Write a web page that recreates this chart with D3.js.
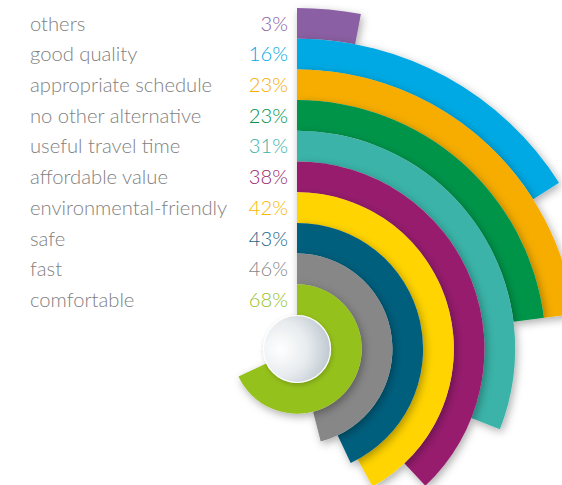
<!DOCTYPE html>
<html><head><meta charset="utf-8">
<script src="https://cdn.jsdelivr.net/npm/d3@7"></script>
<style>html,body{margin:0;padding:0;background:#fff;}svg{display:block;}</style>
</head><body>
<script>
const categories = ["others","good quality","appropriate schedule","no other alternative","useful travel time","affordable value","environmental-friendly","safe","fast","comfortable"];
const values = [3,16,23,23,31,38,42,43,46,68];
const valueLabels = ["3%","16%","23%","23%","31%","38%","42%","43%","46%","68%"];
const colors = ["#8b5ea3","#00a9e3","#f6ad00","#00944a","#3bb3a8","#971f6e","#ffd400","#005f7d","#878787","#95c11f"];
const textColors = ["#8b5ea3","#00a9e3","#f6ad00","#00944a","#3bb3a8","#971f6e","#f7b900","#1f6688","#878787","#95c11f"];

const W = 562, H = 485, cx = 297, cy = 349;
const svg = d3.select("body").append("svg").attr("width", W).attr("height", H);
const defs = svg.append("defs");
const f = defs.append("filter").attr("id","sh").attr("x","-30%").attr("y","-30%").attr("width","160%").attr("height","160%");
f.append("feDropShadow").attr("dx",2).attr("dy",3).attr("stdDeviation",4).attr("flood-color","#000").attr("flood-opacity",0.32);
const f2 = defs.append("filter").attr("id","sh2").attr("x","-30%").attr("y","-30%").attr("width","160%").attr("height","160%");
f2.append("feDropShadow").attr("dx",1).attr("dy",2).attr("stdDeviation",2.5).attr("flood-color","#000").attr("flood-opacity",0.2);
const rg = defs.append("radialGradient").attr("id","cg").attr("cx","25%").attr("cy","50%").attr("r","80%");
rg.append("stop").attr("offset","0%").attr("stop-color","#ffffff");
rg.append("stop").attr("offset","50%").attr("stop-color","#e8ecef");
rg.append("stop").attr("offset","100%").attr("stop-color","#b9c4cc");

const angle = d3.scaleLinear().domain([0,100]).range([0, 2*Math.PI]);
const radius = d3.scaleBand().domain(categories).range([341, 34]);
const bw = radius.bandwidth();
const arc = d3.arc();

const g = svg.append("g").attr("transform", `translate(${cx},${cy})`);
categories.forEach((c,i) => {
  g.append("path")
    .attr("d", arc({innerRadius: radius(c), outerRadius: radius(c)+bw, startAngle: 0, endAngle: angle(values[i])}))
    .attr("fill", colors[i])
    .attr("filter","url(#sh)");
});
g.append("circle").attr("r", 33.5).attr("fill","url(#cg)").attr("stroke","#fff").attr("stroke-width",1.2).attr("filter","url(#sh2)");

const font = "'Lato','Open Sans',sans-serif";
categories.forEach((c,i) => {
  const y = cy - (radius(c) + bw/2);
  svg.append("text").attr("x",30).attr("y",y).attr("dy","0.36em")
    .attr("font-family",font).attr("font-weight",300).attr("font-size",20.2)
    .attr("fill","#7f7f7f").text(c);
  svg.append("text").attr("x",288).attr("y",y).attr("dy","0.36em").attr("text-anchor","end")
    .attr("font-family",font).attr("font-weight",300).attr("font-size",20.2)
    .attr("fill",textColors[i]).text(valueLabels[i]);
});
</script>
</body></html>
